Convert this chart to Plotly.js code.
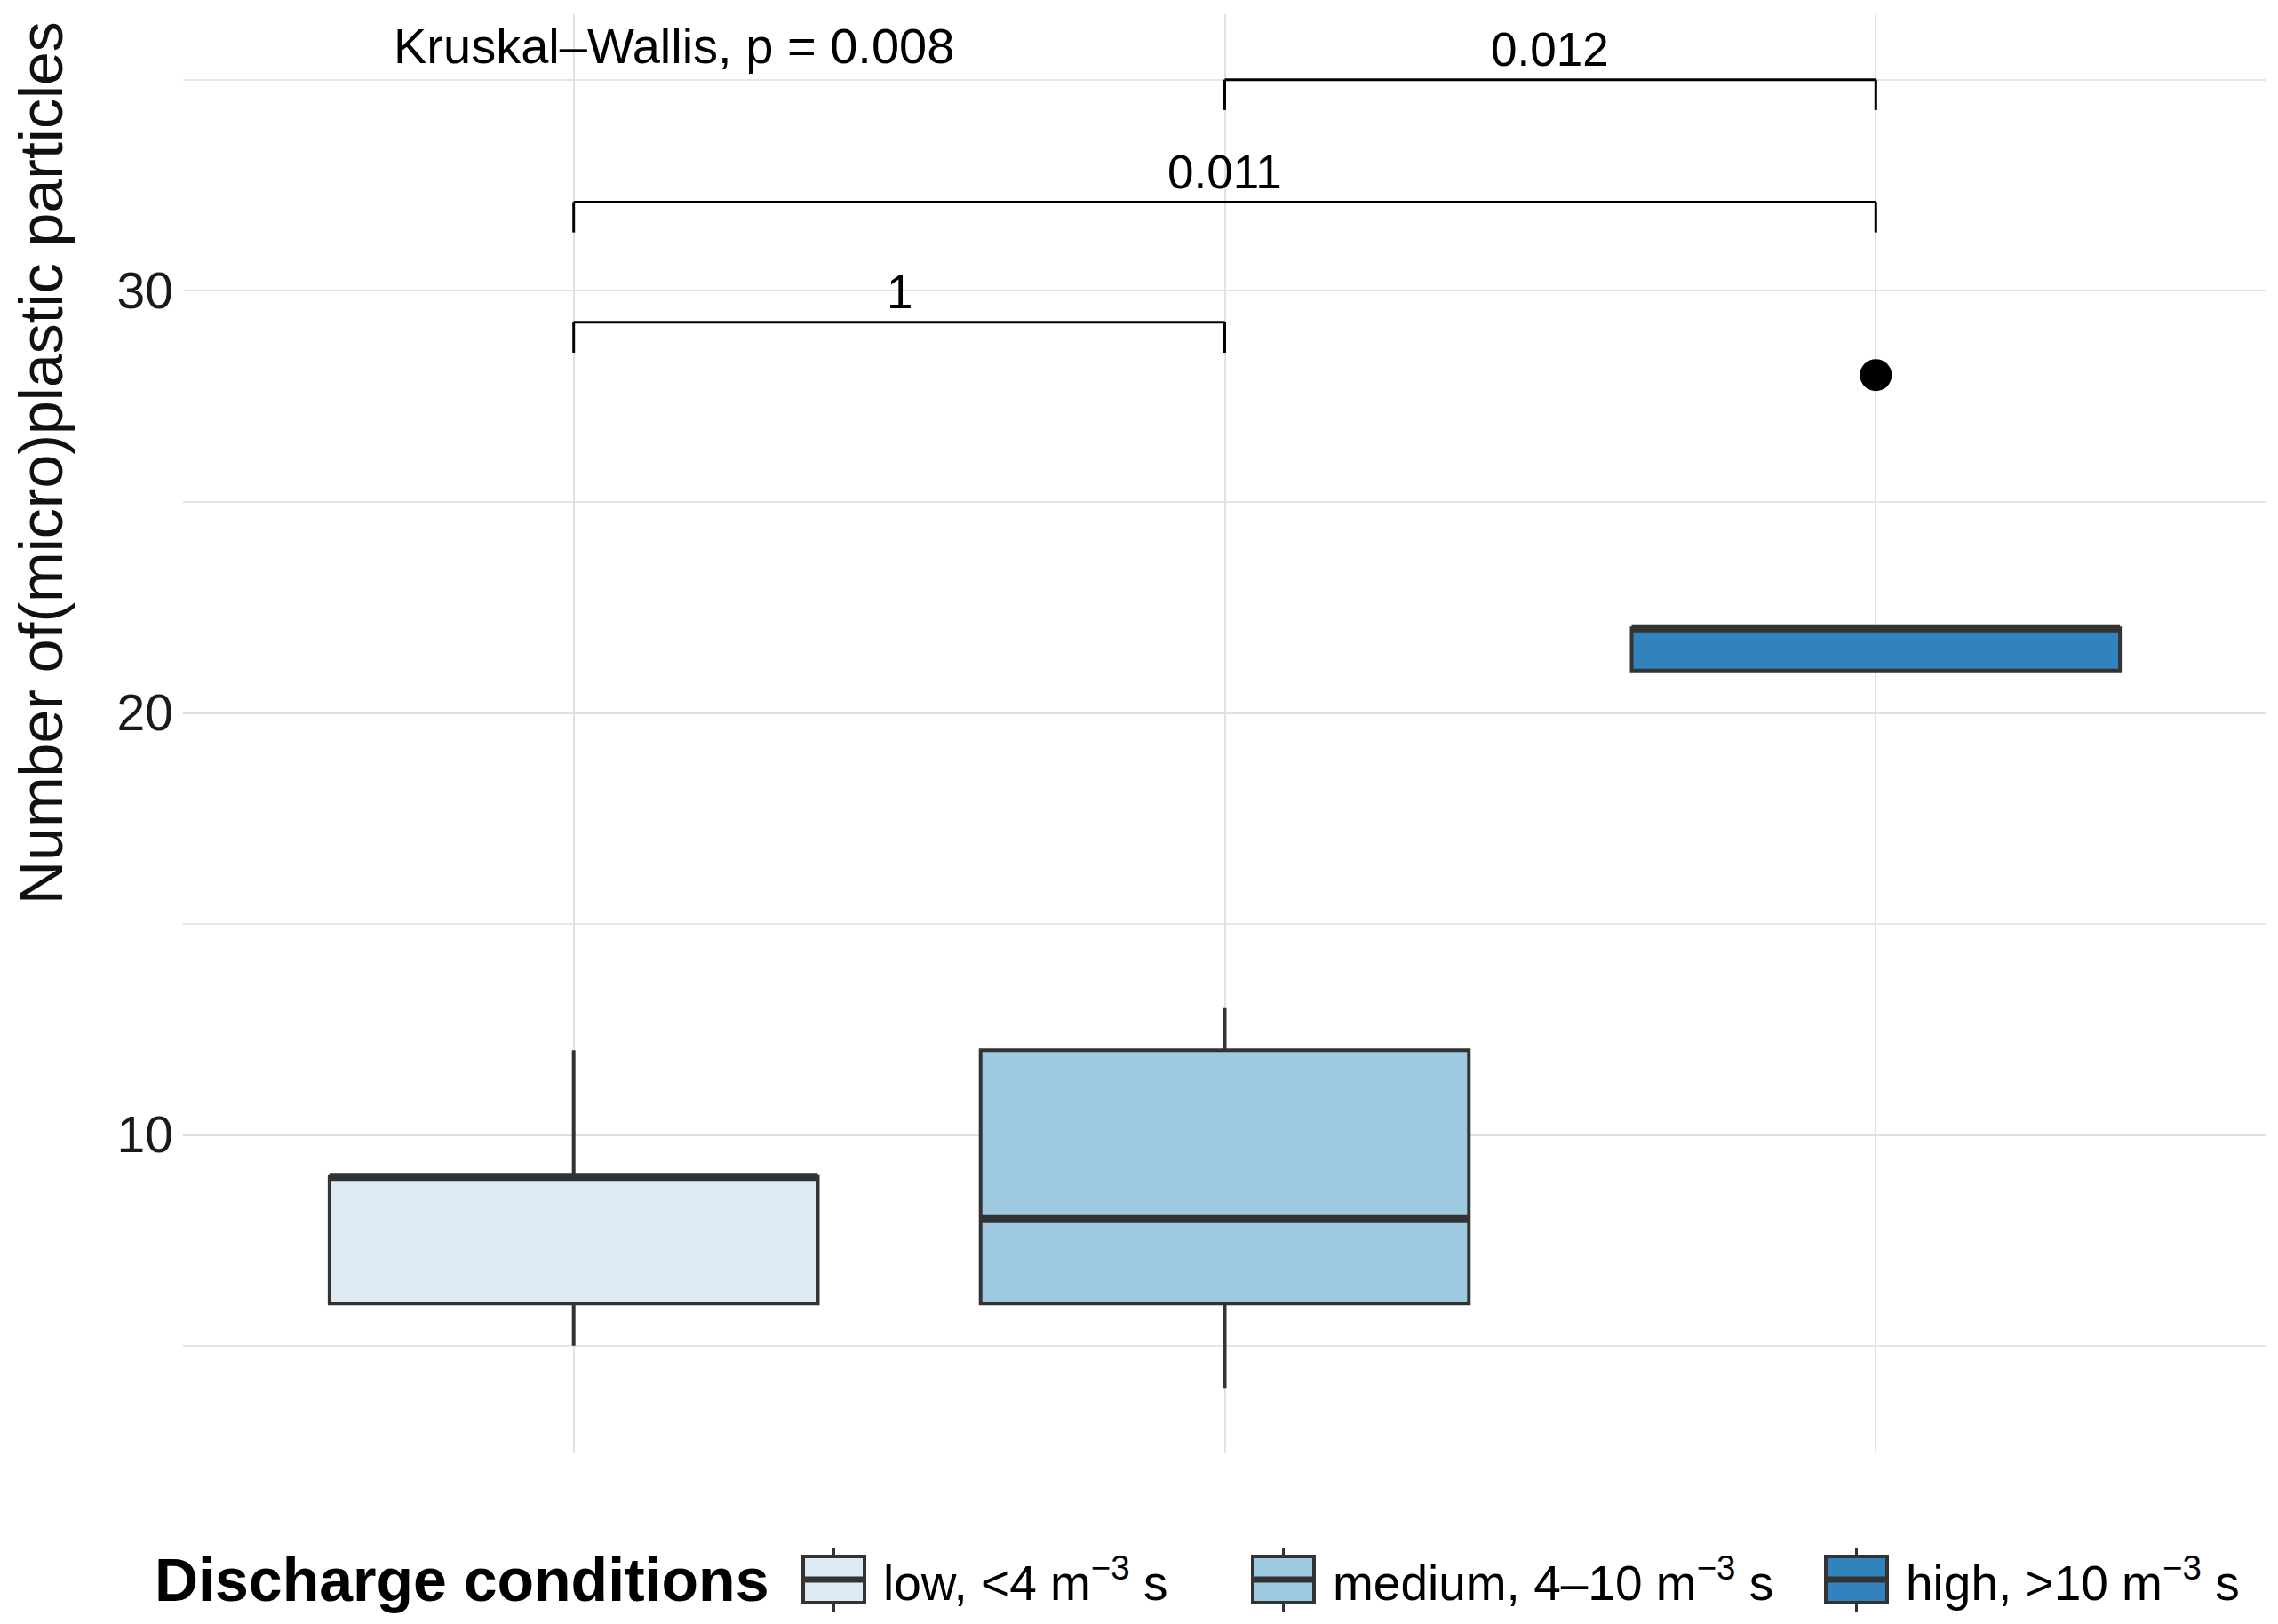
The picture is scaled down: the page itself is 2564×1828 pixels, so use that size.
<!DOCTYPE html>
<html>
<head>
<meta charset="utf-8">
<script src="https://cdn.plot.ly/plotly-3.0.1.min.js"></script>
<style>html,body{margin:0;padding:0;background:#fff;}#chart{width:2564px;height:1828px;}</style>
</head>
<body>
<div id="chart"></div>
<script>
// ---------------- data ----------------
const categories = ['low', 'medium', 'high'];
const legendLabels = ['low, &lt;4 m<sup>−3</sup> s', 'medium, 4–10 m<sup>−3</sup> s', 'high, &gt;10 m<sup>−3</sup> s'];
const lowerFence = [5, 4, 21];
const q1Values = [6, 6, 21];
const medianValues = [9, 8, 22];
const q3Values = [9, 12, 22];
const upperFence = [12, 13, 22];
const outlierGroups = ['high'];
const outlierValues = [28];
const fillColors = ['#deebf7', '#9ecae1', '#3182bd'];
const comparisons = [['low', 'medium'], ['low', 'high'], ['medium', 'high']];
const pLabels = ['1', '0.011', '0.012'];
const bracketY = [29.25, 32.1, 35.0];
const kwLabel = 'Kruskal–Wallis, p = 0.008';
const yTickValues = [10, 20, 30];
const yTickLabels = ['10', '20', '30'];
const legendTitle = '<b>Discharge conditions</b>';
const yTitle = 'Number of(micro)plastic particles';

// ---------------- layout constants ----------------
const W = 2564, H = 1828;
const M = {l: 206, r: 13, t: 16, b: 192};
const PW = W - M.l - M.r, PH = H - M.t - M.b;
const FONT = 'Liberation Sans, Arial, sans-serif';
const LINE = '#333333';
const BOXW = 0.75;
const idx = c => categories.indexOf(c);
const pxX = p => (p - M.l) / PW;
const pxY = p => (H - M.b - p) / PH;

// ---------------- traces ----------------
const traces = categories.map((c, i) => ({
  type: 'box',
  name: c,
  x: [i],
  q1: [q1Values[i]],
  median: [medianValues[i]],
  q3: [q3Values[i]],
  lowerfence: [lowerFence[i]],
  upperfence: [upperFence[i]],
  width: BOXW,
  whiskerwidth: 0,
  fillcolor: fillColors[i],
  line: {color: LINE, width: 4},
  boxpoints: false,
  showlegend: false,
  hoverinfo: 'skip'
}));
traces.push({
  type: 'scatter',
  mode: 'markers',
  x: outlierGroups.map(idx),
  y: outlierValues,
  marker: {color: '#000000', size: 36},
  showlegend: false,
  hoverinfo: 'skip'
});

// ---------------- shapes & annotations ----------------
const shapes = [];
const annotations = [];
// thick median lines
categories.forEach((c, i) => {
  shapes.push({type: 'line', xref: 'x', yref: 'y', x0: i - BOXW / 2, x1: i + BOXW / 2,
    y0: medianValues[i], y1: medianValues[i], line: {color: LINE, width: 9}});
});
// significance brackets
const tickLen = 0.72;
comparisons.forEach((pair, k) => {
  const a = idx(pair[0]), b = idx(pair[1]), y = bracketY[k];
  const ln = {color: '#000000', width: 3};
  shapes.push({type: 'line', xref: 'x', yref: 'y', x0: a, x1: b, y0: y, y1: y, line: ln});
  shapes.push({type: 'line', xref: 'x', yref: 'y', x0: a, x1: a, y0: y, y1: y - tickLen, line: ln});
  shapes.push({type: 'line', xref: 'x', yref: 'y', x0: b, x1: b, y0: y, y1: y - tickLen, line: ln});
  annotations.push({xref: 'x', yref: 'y', x: (a + b) / 2, y: y + 0.72, text: pLabels[k],
    showarrow: false, xanchor: 'center', yanchor: 'middle',
    font: {family: FONT, size: 53, color: '#000000'}});
});
annotations.push({xref: 'x', yref: 'y', x: -0.28, y: 35.8, text: kwLabel, showarrow: false,
  xanchor: 'left', yanchor: 'middle', font: {family: FONT, size: 56, color: '#000000'}});

// y axis title (placed as in the reference, above the plot centre)
annotations.push({xref: 'paper', yref: 'paper', x: pxX(46), y: pxY(521), text: yTitle, textangle: -90,
  showarrow: false, xanchor: 'center', yanchor: 'middle', font: {family: FONT, size: 68, color: '#111111'}});

// custom legend
const legY = 1778;
annotations.push({xref: 'paper', yref: 'paper', x: pxX(172), y: pxY(legY), text: legendTitle,
  showarrow: false, xanchor: 'left', yanchor: 'middle', font: {family: FONT, size: 68, color: '#000000'}});
const iconLeft = [904, 1410, 2055];
const iconW = 69;
categories.forEach((c, i) => {
  const x0 = iconLeft[i], x1 = x0 + iconW, xc = (x0 + x1) / 2;
  shapes.push({type: 'line', xref: 'paper', yref: 'paper', x0: pxX(xc), x1: pxX(xc),
    y0: pxY(legY - 36), y1: pxY(legY + 36), line: {color: LINE, width: 3}});
  shapes.push({type: 'rect', xref: 'paper', yref: 'paper', x0: pxX(x0), x1: pxX(x1),
    y0: pxY(legY - 26), y1: pxY(legY + 26), fillcolor: fillColors[i], line: {color: LINE, width: 4}});
  shapes.push({type: 'line', xref: 'paper', yref: 'paper', x0: pxX(x0), x1: pxX(x1),
    y0: pxY(legY), y1: pxY(legY), line: {color: LINE, width: 7}});
  annotations.push({xref: 'paper', yref: 'paper', x: pxX(x1 + 19), y: pxY(legY), text: legendLabels[i],
    showarrow: false, xanchor: 'left', yanchor: 'middle', font: {family: FONT, size: 55, color: '#000000'}});
});

const layout = {
  width: W, height: H,
  margin: M,
  paper_bgcolor: '#ffffff', plot_bgcolor: '#ffffff',
  showlegend: false,
  boxmode: 'overlay',
  font: {family: FONT},
  xaxis: {
    range: [-0.6, 2.6],
    tickvals: categories.map((c, i) => i),
    showticklabels: false,
    showgrid: true, gridcolor: '#e2e2e2', gridwidth: 2,
    zeroline: false, showline: false, ticks: ''
  },
  yaxis: {
    range: [2.45, 36.55],
    tickvals: yTickValues,
    ticktext: yTickLabels,
    tickfont: {family: FONT, size: 57, color: '#1a1a1a'},
    ticklabelstandoff: 10,
    showgrid: true, gridcolor: '#e0e0e0', gridwidth: 2.5,
    minor: {tickvals: [5, 15, 25, 35], showgrid: true, gridcolor: '#e6e6e6', gridwidth: 2},
    zeroline: false, showline: false, ticks: ''
  },
  shapes: shapes,
  annotations: annotations
};

Plotly.newPlot('chart', traces, layout, {staticPlot: true, displayModeBar: false});
</script>
</body>
</html>
